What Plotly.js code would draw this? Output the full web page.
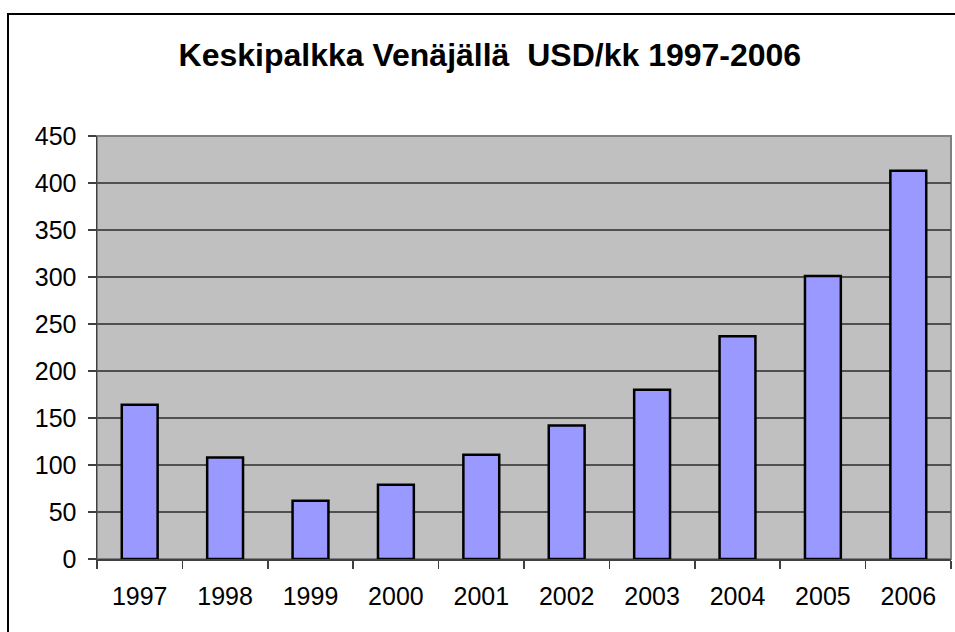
<!DOCTYPE html>
<html>
<head>
<meta charset="utf-8">
<script src="https://cdn.plot.ly/plotly-3.0.1.min.js"></script>
<style>
  html, body { margin: 0; padding: 0; background: #fff; }
  #wrap { position: relative; width: 955px; height: 632px; overflow: hidden; }
  #chart { width: 955px; height: 632px; }
  #frame { position: absolute; left: 7px; top: 13px; width: 1200px; height: 1200px;
           border-left: 2px solid #000; border-top: 2px solid #000; pointer-events: none; }
</style>
</head>
<body>
<div id="wrap">
  <div id="chart"></div>
  <div id="frame"></div>
</div>
<script>
const titleText = "Keskipalkka Venäjällä  USD/kk 1997-2006";
const years = ["1997", "1998", "1999", "2000", "2001", "2002", "2003", "2004", "2005", "2006"];
const salaryUSD = [164, 108, 62, 79, 111, 142, 180, 237, 301, 413];
const yTicks = [0, 50, 100, 150, 200, 250, 300, 350, 400, 450];

const fontFam = "'Liberation Sans', Arial, sans-serif";

const trace = {
  type: "bar",
  x: years,
  y: salaryUSD,
  marker: { color: "#9999ff", line: { color: "#000000", width: 2.5 } },
  hoverinfo: "x+y"
};

const layout = {
  width: 955,
  height: 632,
  margin: { l: 97, r: 4, t: 136, b: 73 },
  paper_bgcolor: "#ffffff",
  plot_bgcolor: "#c0c0c0",
  showlegend: false,
  bargap: 0.58,
  font: { family: fontFam, color: "#000000" },
  title: {
    text: "<b>" + titleText + "</b>",
    font: { family: fontFam, size: 32, color: "#000000" },
    xref: "paper", x: 0.46, xanchor: "center",
    yref: "container", y: 0.913, yanchor: "middle"
  },
  xaxis: {
    type: "category",
    tickson: "boundaries",
    ticks: "outside", ticklen: 8, tickwidth: 1.5, tickcolor: "#404040",
    showline: true, linecolor: "#404040", linewidth: 1.5,
    showgrid: false, zeroline: false,
    tickfont: { family: fontFam, size: 25, color: "#000000" },
    ticklabelstandoff: 14,
    fixedrange: true
  },
  yaxis: {
    range: [0, 450],
    tickvals: yTicks,
    ticktext: yTicks.map(String),
    ticks: "outside", ticklen: 8, tickwidth: 1.5, tickcolor: "#404040",
    showline: true, linecolor: "#404040", linewidth: 1.5,
    showgrid: true, gridcolor: "#505050", gridwidth: 1.2,
    zeroline: false,
    tickfont: { family: fontFam, size: 25, color: "#000000" },
    ticklabelstandoff: 6,
    fixedrange: true
  },
  shapes: [{
    type: "rect", xref: "paper", yref: "paper", x0: 0, x1: 1, y0: 0, y1: 1,
    line: { color: "#808080", width: 2 }, layer: "below"
  }]
};

Plotly.newPlot("chart", [trace], layout, { displayModeBar: false, staticPlot: true });
</script>
</body>
</html>
